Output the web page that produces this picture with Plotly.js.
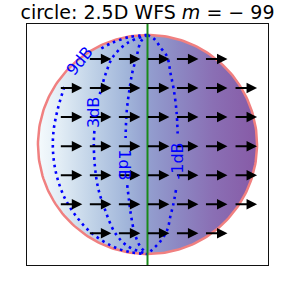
<!DOCTYPE html>
<html>
<head>
<meta charset="utf-8">
<script src="https://cdn.plot.ly/plotly-3.0.1.min.js"></script>
<style>html,body{margin:0;padding:0;background:#fff;}#chart{width:291px;height:287px;}</style>
</head>
<body>
<div id="chart"></div>
<script>
// ---- data ----
const axisRange = [-2.2, 2.2];
const circleRadius = 2.0;
const secondarySourceX = 0;            // green vertical line

// arrow tails per row (quiver, all pointing +x)
const arrowRowY = [1.56, 1.03, 0.50, -0.03, -0.56, -1.09, -1.62];
const arrowTailsX = [
  [-1.08, -0.55, -0.02, 0.51, 1.04],
  [-1.61, -1.08, -0.55, -0.02, 0.51, 1.04, 1.58],
  [-1.61, -1.08, -0.55, -0.02, 0.51, 1.04, 1.58],
  [-1.61, -1.08, -0.55, -0.02, 0.51, 1.04, 1.58],
  [-1.61, -1.08, -0.55, -0.02, 0.51, 1.04, 1.58],
  [-1.61, -1.08, -0.55, -0.02, 0.51, 1.04, 1.58],
  [-1.08, -0.55, -0.02, 0.51, 1.04]
];
const arrowU = 0.42;
const arrowV = 0.0;

// contour lines (null = gap under the inline label)
const contour9x = [0, -0.34, -0.66, -0.87, null, -1.52, -1.65, -1.72, -1.72, -1.65, -1.50, -1.31, -1.04, -0.66, -0.34, 0];
const contour9y = [2.0, 1.96, 1.85, 1.74, null, 1.05, 0.6, 0.2, -0.2, -0.6, -1.0, -1.3, -1.6, -1.85, -1.96, -2.0];
const contour3x = [0, -0.37, -0.63, -0.76, -0.85, -0.87, null, -0.97, -0.98, -0.96, -0.90, -0.79, -0.60, -0.37, 0];
const contour3y = [2.0, 1.85, 1.6, 1.3, 1.0, 0.92, null, 0.25, 0.0, -0.4, -0.8, -1.15, -1.6, -1.85, -2.0];
const contour1x = [0, -0.12, -0.20, -0.28, -0.33, -0.38, -0.40, null, -0.37, -0.34, -0.30, -0.24, -0.14, 0];
const contour1y = [2.0, 1.88, 1.6, 1.3, 1.0, 0.6, 0.12, null, -0.74, -1.0, -1.3, -1.6, -1.85, -2.0];
const contourM1x = [0, 0.14, 0.23, 0.36, 0.42, 0.48, 0.53, 0.55, null, 0.52, 0.47, 0.42, 0.36, 0.24, 0.14, 0];
const contourM1y = [2.0, 1.91, 1.78, 1.6, 1.3, 1.0, 0.6, 0.2, null, -0.83, -1.1, -1.3, -1.56, -1.76, -1.87, -2.0];

const labelText = ['9dB', '3dB', '1dB', '-1dB'];
const labelX = [-1.25, -0.995, -0.41, 0.54];
const labelY = [1.52, 0.575, -0.36, -0.31];
const labelAngle = [-51, -90, 90, -90];

const fillColors = [
  [0.0, '#f5fbfd'], [0.1, '#e2edf5'], [0.25, '#c0d2e7'], [0.4, '#a2b6da'],
  [0.5, '#939fcf'], [0.65, '#8c86c2'], [0.8, '#8a6fb4'], [1.0, '#875aa6']
];

// ---- build ----
const circX = [], circY = [];
for (let i = 0; i <= 240; i++) {
  const t = 2 * Math.PI * i / 240;
  circX.push(circleRadius * Math.cos(t));
  circY.push(circleRadius * Math.sin(t));
}

const dotLine = {color: '#0000ff', width: 2.6, dash: '2.6px,4px', shape: 'spline'};
const traces = [
  {type: 'scatter', mode: 'lines', x: circX, y: circY, fill: 'toself',
   fillgradient: {type: 'horizontal', colorscale: fillColors},
   line: {color: '#f08080', width: 2.5}, hoverinfo: 'skip'},
  {type: 'scatter', mode: 'lines', x: contour9x, y: contour9y, line: dotLine, connectgaps: false},
  {type: 'scatter', mode: 'lines', x: contour3x, y: contour3y, line: dotLine, connectgaps: false},
  {type: 'scatter', mode: 'lines', x: contour1x, y: contour1y, line: dotLine, connectgaps: false},
  {type: 'scatter', mode: 'lines', x: contourM1x, y: contourM1y, line: dotLine, connectgaps: false},
  {type: 'scatter', mode: 'lines', x: [secondarySourceX, secondarySourceX], y: axisRange,
   line: {color: '#1a8a1a', width: 2}}
];

const annotations = [];
arrowRowY.forEach((y, r) => {
  arrowTailsX[r].forEach(x => {
    annotations.push({x: x + arrowU, y: y + arrowV, ax: x, ay: y,
      xref: 'x', yref: 'y', axref: 'x', ayref: 'y', text: '', showarrow: true,
      arrowhead: 2, arrowsize: 1.05, arrowwidth: 2, arrowcolor: '#000', standoff: 0});
  });
});
labelText.forEach((t, i) => {
  annotations.push({x: labelX[i], y: labelY[i], xref: 'x', yref: 'y', text: t,
    showarrow: false, textangle: labelAngle[i],
    font: {family: 'DejaVu Sans', size: 16, color: '#0000ff'}});
});

const axis = {range: axisRange, showgrid: false, zeroline: false, showticklabels: false,
  ticks: '', showline: true, mirror: true, linecolor: '#111', linewidth: 1.3, fixedrange: true};

const layout = {
  width: 291, height: 287,
  margin: {l: 27, r: 23, t: 24, b: 22},
  paper_bgcolor: '#fff', plot_bgcolor: '#fff',
  showlegend: false,
  title: {text: 'circle: 2.5D WFS <i>m</i> = − 99', x: 0.5, xref: 'paper', xanchor: 'center',
    y: 0.958, yref: 'container', yanchor: 'middle',
    font: {family: 'DejaVu Sans', size: 19, color: '#000'}},
  xaxis: axis, yaxis: Object.assign({}, axis),
  annotations: annotations
};

Plotly.newPlot('chart', traces, layout, {staticPlot: true, displayModeBar: false});
</script>
</body>
</html>
